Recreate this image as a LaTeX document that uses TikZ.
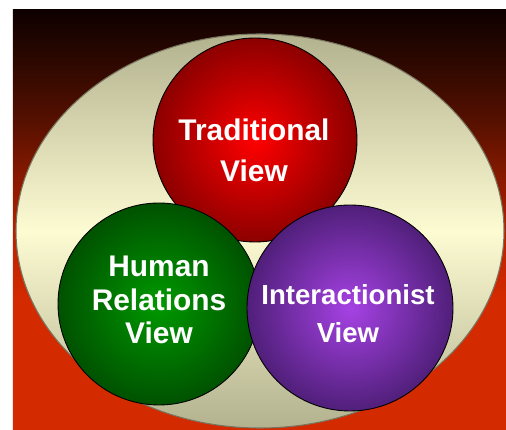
\documentclass[tikz,border=0pt]{standalone}
\usepackage{fontspec}
\setmainfont{Liberation Sans}
\definecolor{bgtop}{HTML}{0E0000}
\definecolor{bgdark}{HTML}{2C0800}
\definecolor{bgbrown}{HTML}{551000}
\definecolor{bgmid}{HTML}{8A1A00}
\definecolor{bgwarm}{HTML}{C02400}
\definecolor{bgred}{HTML}{D42A00}
\definecolor{olivegrey}{HTML}{B3B28F}
\definecolor{cream}{HTML}{FDFBD2}
\pgfdeclareverticalshading{backdrop}{100bp}{color(0bp)=(bgred); color(40.5bp)=(bgred);
  color(46.4bp)=(bgwarm); color(54.8bp)=(bgmid); color(61.9bp)=(bgbrown);
  color(69bp)=(bgdark); color(75bp)=(bgtop); color(100bp)=(bgtop)}
\tikzset{
  bubble/.style={circle, draw=black, line width=0.5pt, inner sep=0pt},
  redbubble/.style={bubble, minimum size=4.08cm, inner color=red!100!white, outer color=red!55!black},
  greenbubble/.style={bubble, minimum size=4.04cm, inner color=green!60!black, outer color=green!32!black},
  purplebubble/.style={bubble, minimum size=4.12cm, inner color={rgb,255:red,166;green,66;blue,228}, outer color={rgb,255:red,80;green,31;blue,122}},
  viewtext/.style={text=white, align=center, font=\fontsize{17}{20}\selectfont\bfseries}
}

\begin{document}
\begin{tikzpicture}
  \useasboundingbox (0,0) rectangle (10.12,8.6);
  \shade[shading=backdrop] (0.26,0) rectangle (10.12,8.4);
  \shade[top color=olivegrey, bottom color=olivegrey, middle color=cream,
    draw={rgb,255:red,120;green,118;blue,96}, line width=0.6pt] (5.2,3.98) ellipse (4.88cm and 3.94cm);

  % the three views
  \node[redbubble] (trad) at (5.1,5.8) {};
  \node[greenbubble] (human) at (3.18,2.52) {};
  \node[purplebubble] (inter) at (7.0,2.44) {};

  \node[viewtext] (tradtext) at (5.08,5.6) {Traditional\\[3.5pt]View};
  \node[viewtext] (humantext) at (3.18,2.6) {Human\\[-1pt]Relations\\[-1pt]View};
  \node[viewtext, font=\fontsize{15.7}{19}\selectfont\bfseries] (intertext) at (6.96,2.32) {Interactionist\\[2.5pt]View};
\end{tikzpicture}
\end{document}
